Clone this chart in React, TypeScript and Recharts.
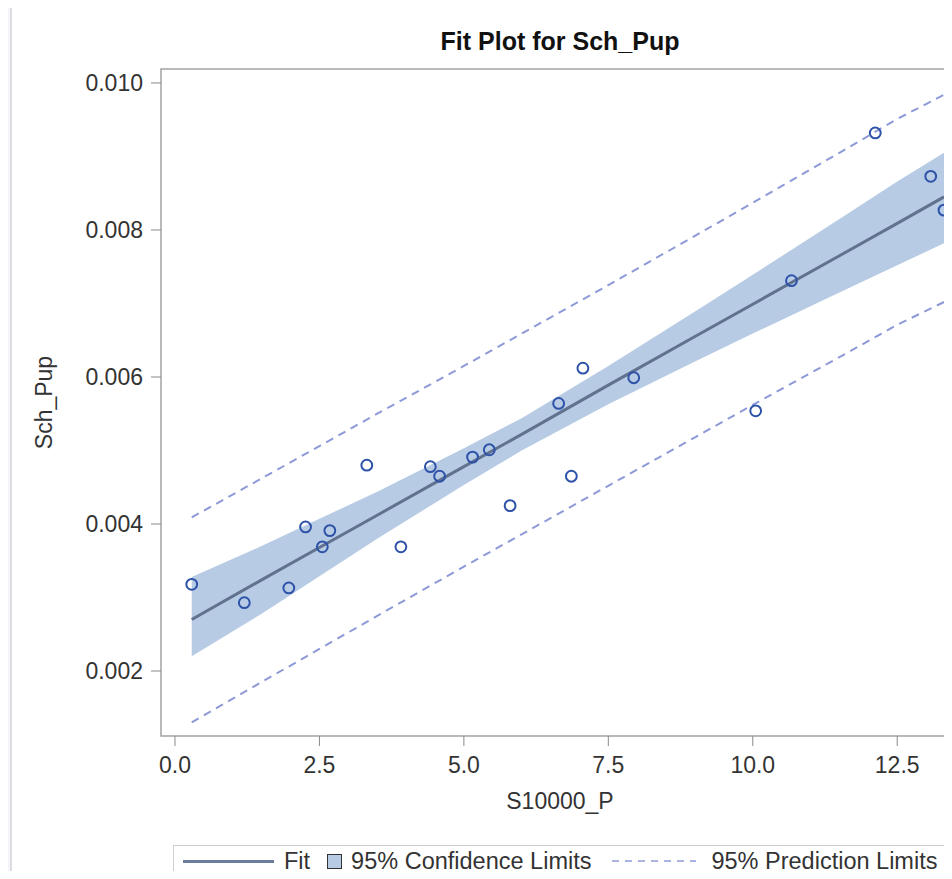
import {
  ComposedChart,
  Area,
  Line,
  Scatter,
  XAxis,
  YAxis,
  ReferenceArea,
} from 'recharts';

// observed points (S10000_P, Sch_Pup)
const obsX = [0.29, 1.2, 1.97, 2.26, 2.55, 2.68, 3.32, 3.91, 4.42, 4.58, 5.15, 5.44, 5.8, 6.64, 6.86, 7.06, 7.94, 10.05, 10.67, 12.12, 13.08, 13.31];
const obsY = [0.00318, 0.00293, 0.00313, 0.00396, 0.00369, 0.00391, 0.0048, 0.00369, 0.00478, 0.00465, 0.00491, 0.00501, 0.00425, 0.00564, 0.00465, 0.00612, 0.00599, 0.00554, 0.00731, 0.00932, 0.00873, 0.00827];

// fit curve and limits, read along the x grid
const gridX = [0.29, 1.5, 2.5, 3.5, 5.0, 6.0, 7.5, 9.0, 10.0, 11.5, 12.5, 13.31];
const fitY = [0.0027, 0.00324, 0.00368, 0.00412, 0.00478, 0.00522, 0.00589, 0.00655, 0.00699, 0.00765, 0.00809, 0.00845];
const ciLow = [0.0022, 0.00278, 0.00329, 0.0038, 0.00453, 0.005, 0.00563, 0.00621, 0.00659, 0.00715, 0.00752, 0.00782];
const ciHigh = [0.00328, 0.0037, 0.00407, 0.00444, 0.00503, 0.00544, 0.00615, 0.00689, 0.00739, 0.00815, 0.00866, 0.00905];
const predLow = [0.0013, 0.00185, 0.0023, 0.00275, 0.00342, 0.00386, 0.00452, 0.00518, 0.00562, 0.00627, 0.00671, 0.00702];
const predHigh = [0.00409, 0.00462, 0.00506, 0.0055, 0.00615, 0.00659, 0.00725, 0.00792, 0.00837, 0.00905, 0.00951, 0.00984];

const xTicks = [0, 2.5, 5, 7.5, 10, 12.5];
const yTicks = [0.002, 0.004, 0.006, 0.008, 0.01];

const X_DOMAIN: [number, number] = [-0.242, 13.5];
const Y_DOMAIN: [number, number] = [0.001116, 0.01019];

const FONT = '"Liberation Sans", Arial, sans-serif';
const BAND = '#b7cbe5';
const FIT = '#61728f';
const PRED = '#8e9ad8';
const MARK = '#2d52a8';

const curve = gridX.map((x, i) => ({
  x,
  fit: fitY[i],
  ci: [ciLow[i], ciHigh[i]],
  lo: predLow[i],
  hi: predHigh[i],
}));

const points = obsX.map((x, i) => ({ x, y: obsY[i] }));

const OpenCircle = (props: any) => (
  <circle cx={props.cx} cy={props.cy} r={5.4} fill="none" stroke={MARK} strokeWidth={2} />
);

export default function App() {
  return (
    <div
      style={{
        position: 'relative',
        margin: -8,
        width: 952,
        height: 879,
        overflow: 'hidden',
        background: '#f3f5f9',
        fontFamily: FONT,
      }}
    >
      <div
        style={{
          position: 'absolute',
          left: 10,
          top: 5,
          width: 1200,
          height: 1000,
          background: '#fff',
          border: '2px solid #dcdde0',
        }}
      />
      <div
        style={{
          position: 'absolute',
          left: 160,
          top: 29,
          width: 800,
          textAlign: 'center',
          fontSize: 25,
          fontWeight: 'bold',
          lineHeight: 1,
          color: '#111',
        }}
      >
        Fit Plot for Sch_Pup
      </div>
      <div style={{ position: 'absolute', left: 0, top: 0 }}>
        <ComposedChart
          width={1000}
          height={879}
          data={curve}
          margin={{ top: 69, right: 45, bottom: 113, left: 101 }}
        >
          <XAxis
            dataKey="x"
            type="number"
            domain={X_DOMAIN}
            allowDataOverflow
            ticks={xTicks}
            tickFormatter={(v: number) => v.toFixed(1)}
            axisLine={false}
            tickLine={{ stroke: '#8a8a8a' }}
            tickSize={10}
            tickMargin={11}
            height={30}
            tick={{ fill: '#333', fontSize: 23, fontFamily: FONT }}
          />
          <YAxis
            type="number"
            domain={Y_DOMAIN}
            allowDataOverflow
            ticks={yTicks}
            tickFormatter={(v: number) => v.toFixed(3)}
            axisLine={false}
            tickLine={{ stroke: '#8a8a8a' }}
            tickSize={10}
            tickMargin={8}
            width={60}
            tick={{ fill: '#333', fontSize: 23, fontFamily: FONT }}
          />
          <Area
            dataKey="ci"
            type="linear"
            stroke="none"
            fill={BAND}
            fillOpacity={1}
            isAnimationActive={false}
          />
          <Line
            dataKey="hi"
            type="linear"
            stroke={PRED}
            strokeWidth={2}
            strokeDasharray="8 6"
            dot={false}
            isAnimationActive={false}
          />
          <Line
            dataKey="lo"
            type="linear"
            stroke={PRED}
            strokeWidth={2}
            strokeDasharray="8 6"
            dot={false}
            isAnimationActive={false}
          />
          <Line
            dataKey="fit"
            type="linear"
            stroke={FIT}
            strokeWidth={3}
            dot={false}
            isAnimationActive={false}
          />
          <Scatter data={points} dataKey="y" shape={OpenCircle} isAnimationActive={false} />
          <ReferenceArea
            x1={X_DOMAIN[0]}
            x2={X_DOMAIN[1]}
            y1={Y_DOMAIN[0]}
            y2={Y_DOMAIN[1]}
            fill="none"
            stroke="#a3a3a3"
            strokeWidth={1.5}
          />
        </ComposedChart>
      </div>
      <div
        style={{
          position: 'absolute',
          left: 44 - 100,
          top: 402 - 11,
          width: 200,
          height: 23,
          lineHeight: '23px',
          fontSize: 23,
          textAlign: 'center',
          color: '#333',
          transform: 'rotate(-90deg)',
        }}
      >
        Sch_Pup
      </div>
      <div
        style={{
          position: 'absolute',
          left: 360,
          top: 790,
          width: 400,
          textAlign: 'center',
          fontSize: 23,
          lineHeight: 1,
          color: '#333',
        }}
      >
        S10000_P
      </div>
      <div
        style={{
          position: 'absolute',
          left: 173,
          top: 845,
          width: 772,
          height: 32,
          border: '1.5px solid #cfcfcf',
          background: '#fff',
          display: 'flex',
          alignItems: 'center',
          fontSize: 23.5,
          color: '#333',
          boxSizing: 'border-box',
        }}
      >
        <span style={{ marginLeft: 9, width: 91, height: 3, background: '#6b7d9c' }} />
        <span style={{ marginLeft: 10 }}>Fit</span>
        <span
          style={{
            marginLeft: 17,
            width: 13,
            height: 13,
            background: BAND,
            border: '1.5px solid #333',
          }}
        />
        <span style={{ marginLeft: 9 }}>95% Confidence Limits</span>
        <svg width={84} height={4} style={{ marginLeft: 21 }}>
          <line x1={0} y1={2} x2={84} y2={2} stroke={PRED} strokeWidth={1.5} strokeDasharray="7 6" />
        </svg>
        <span style={{ marginLeft: 15 }}>95% Prediction Limits</span>
      </div>
    </div>
  );
}
